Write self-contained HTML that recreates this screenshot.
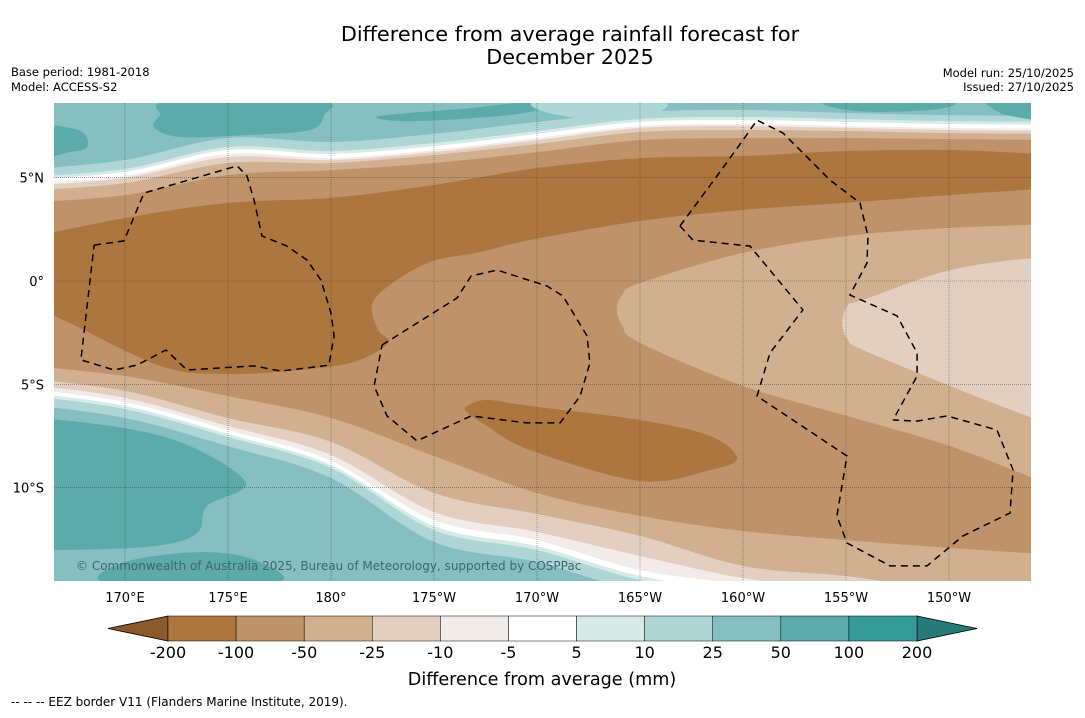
<!DOCTYPE html>
<html><head><meta charset="utf-8">
<style>
body{margin:0;background:#fff;width:1085px;height:713px;overflow:hidden;font-family:"Liberation Sans",sans-serif;}
svg text{font-family:"DejaVu Sans","Liberation Sans",sans-serif;}
</style></head>
<body>
<svg id="chart" width="1085" height="713" viewBox="0 0 1085 713" xmlns="http://www.w3.org/2000/svg">
<text x="570" y="41" font-size="20.8" text-anchor="middle" fill="#000">Difference from average rainfall forecast for</text>
<text x="570" y="64" font-size="20.8" text-anchor="middle" fill="#000">December 2025</text>
<text x="11" y="76" font-size="11.5">Base period: 1981-2018</text>
<text x="11" y="91" font-size="11.5">Model: ACCESS-S2</text>
<text x="1074" y="77" font-size="11.5" text-anchor="end">Model run: 25/10/2025</text>
<text x="1074" y="91" font-size="11.5" text-anchor="end">Issued: 27/10/2025</text>
<defs><clipPath id="mapclip"><rect x="54" y="103" width="977" height="478"/></clipPath></defs>
<g id="map" clip-path="url(#mapclip)"></g>
<g id="axes"></g>
<g id="cbar"></g>
<text x="542" y="685" font-size="17.6" text-anchor="middle">Difference from average (mm)</text>
<text x="11" y="706" font-size="12">--  --  -- EEZ border V11 (Flanders Marine Institute, 2019).</text>
</svg>
<script>
// ---- data (lon in degrees east 0-360, lat in degrees) ----
const lineLons=[165,170,175,180,185,190,195,200,205,210,216];
const north_m100=[3.78,4.16,5.13,5.37,5.71,6.24,6.82,6.92,6.92,6.87,6.82];
const north_m50=[4.36,4.74,5.71,5.71,6.10,6.63,7.21,7.31,7.26,7.16,7.12];
const north_m25=[4.60,4.99,6.00,5.86,6.24,6.82,7.41,7.50,7.41,7.31,7.26];
const north_m10=[4.70,5.08,6.15,5.95,6.34,6.92,7.50,7.60,7.50,7.41,7.36];
const north_p5=[4.89,5.28,6.34,6.15,6.53,7.12,7.70,7.79,7.70,7.60,7.55];
const north_p10=[5.03,5.42,6.49,6.29,6.68,7.26,7.84,7.94,7.84,7.74,7.70];
const north_p25=[5.37,5.86,6.92,6.73,7.12,7.70,8.18,8.28,8.13,8.03,7.99];
const south_m100=[-4.07,-4.60,-5.57,-6.63,-8.47,-10.26,-11.37,-12.10,-12.54,-12.92,-13.31];
const south_m50=[-4.70,-5.32,-6.63,-7.79,-10.26,-11.28,-12.34,-13.79,-14.28,-14.96,-15.44];
const south_m25=[-4.99,-5.66,-7.02,-8.42,-11.18,-12.15,-13.31,-14.38,-14.96,-15.44,-15.92];
const south_m10=[-5.18,-5.86,-7.21,-8.71,-11.57,-12.54,-13.99,-14.67,-15.25,-15.73,-16.21];
const south_p5=[-5.37,-6.05,-7.41,-8.91,-11.86,-12.83,-14.28,-14.96,-15.54,-16.02,-16.51];
const south_p10=[-5.52,-6.20,-7.55,-9.05,-12.05,-13.02,-14.47,-15.15,-15.73,-16.21,-16.70];
const south_p25=[-5.95,-6.63,-7.99,-9.54,-12.63,-13.60,-15.05,-15.73,-16.31,-16.80,-17.28];
const blobNorthDryLon=[165,170,175,180,185,190,195,200,205,210,214.5,217,217,214.5,210,205,200,195,189.66,187.23,184.81,182.86,181.99,182.28,182.77,181.12,178.5,175,171.7,166.55,163,163];
const blobNorthDryLat=[2.05,3.05,3.78,4.02,4.65,5.47,5.95,6.05,6.29,6.34,6.15,6.1,4.5,4.45,4.16,3.78,3.44,2.90,1.98,1.40,0.92,-0.19,-1.16,-2.37,-3.00,-3.92,-4.31,-4.50,-4.11,-1.69,-0.6,1.8];
const blobMidLon=[193.88,194.13,195,200,205.05,210.05,214.5,217,217,214.5,210.05,205.05,200,195,194.13];
const blobMidLat=[-1.40,-0.68,-0.10,1.36,2.18,2.57,2.73,2.8,-10.6,-9.7,-7.99,-6.53,-5.08,-3.00,-2.13];
const blobEastLon=[204.81,205.10,205.83,210.05,214.5,217,217,214.5,210.05,205.83,205.10];
const blobEastLat=[-2.03,-1.16,-0.92,0.53,1.15,1.2,-7.6,-6.8,-5.08,-3.34,-2.86];
const blobSouthDryLon=[186.6,187.57,189.66,195,198.4,199.71,198.4,195,189.66,187.57,186.6];
const blobSouthDryLat=[-6.05,-5.76,-6.05,-6.73,-7.50,-8.57,-9.15,-9.68,-8.18,-7.02,-6.34];
const wetSouthLon=[165,169.95,173.16,175.87,173.98,173.5,171.41,166.55,163,163];
const wetSouthLat=[-6.55,-7.12,-7.99,-9.78,-10.89,-12.2,-12.83,-13.02,-12.9,-6.5];
const wetSouth2Lon=[169.17,170,173.64,176.31,177.28];
const wetSouth2Lat=[-14.6,-13.6,-13.12,-13.5,-14.6];
const wetN1Lon=[165.3,167.33,168.11,168.11,167.33,165.3];
const wetN1Lat=[7.5,7.41,7.02,6.44,6.24,5.95];
const wetN2Lon=[171.41,171.7,172.18,179.47,179.66,178.98,176.07,172.67];
const wetN2Lat=[7.45,8.03,8.7,8.7,8.03,7.31,7.07,6.97];
const wetN3Lon=[182.38,186.75,189.66,190.39,189.66,186.26,183.35];
const wetN3Lat=[7.99,8.37,8.7,8.7,8.18,7.84,7.74];
const wetN4Lon=[204.22,209.9,209.56,206.65,204.71];
const wetN4Lat=[8.7,8.7,8.33,8.18,8.33];
const wetN5Lon=[211.99,215,215,212.96,212.09];
const wetN5Lat=[8.7,8.7,7.79,7.99,8.37];
const paleNLon=[190.15,195.97,195.49,193.06,190.4];
const paleNLat=[8.7,8.7,8.03,7.79,8.18];
const eezALon=[168.5,169.95,170.92,175.44,175.92,176.26,176.65,177.86,178.83,179.51,180,180.15,179.9,177.57,176.26,173.01,171.99,170.58,169.47,167.86,168.5];
const eezALat=[1.74,1.94,4.26,5.57,5.08,3.92,2.18,1.69,1.02,0.05,-1.55,-2.66,-4.07,-4.36,-4.11,-4.31,-3.34,-4.07,-4.31,-3.82,1.74];
const eezBLon=[182.48,186.12,186.8,188.06,190.49,191.26,192.43,192.57,192.09,191.12,189.51,186.8,184.17,182.72,182.09,182.48];
const eezBLat=[-3.10,-0.82,0.24,0.53,-0.24,-0.73,-2.66,-3.97,-5.57,-6.87,-6.87,-6.53,-7.74,-6.53,-5.08,-3.10];
const eezC1Lon=[196.94,198.74,200,200.68,201.94,203.4,204.22,205.68,206.07,206.02,205.19,207.48,208.45,208.45,207.28];
const eezC1Lat=[2.66,5.08,6.82,7.79,7.16,5.71,4.89,3.78,2.18,0.87,-0.68,-1.69,-3.48,-4.60,-6.73];
const eezC2Lon=[196.94,197.57,200.34,202.91,201.31,200.68,205.05,204.56,205.05,207.14,208.93,210.68,212.96,213.11,212.33,209.9,208.45,207.28];
const eezC2Lat=[2.66,1.98,1.69,-1.40,-3.48,-5.57,-8.47,-11.37,-12.68,-13.79,-13.79,-12.34,-11.23,-9.15,-7.21,-6.53,-6.78,-6.73];
const gridLons=[170,175,180,185,190,195,200,205,210];
const lonLabels=["170°E","175°E","180°","175°W","170°W","165°W","160°W","155°W","150°W"];
const gridLats=[5,0,-5,-10];
const latLabels=["5°N","0°","5°S","10°S"];
const cbarLabels=["-200","-100","-50","-25","-10","-5","5","10","25","50","100","200"];
const cbarColors=["#ad763e","#bf9369","#d1b08f","#e3cfbf","#f2ece8","#ffffff","#d6ebe8","#aed6d4","#85bfbf","#5cabab","#349b98"];
// ---- scales ----
const MX0=54,MX1=1031,MY0=103,MY1=581;
function xs(lon){return 331+(lon-180)*20.6;}
function ys(lat){return 281-lat*20.66;}
const NS="http://www.w3.org/2000/svg";
const map=document.getElementById('map');
function crPath(pts,closed){
  const n=pts.length;let d="M"+pts[0][0].toFixed(1)+","+pts[0][1].toFixed(1);
  const last=closed?n:n-1;
  for(let i=0;i<last;i++){
    const p0=pts[(i-1+n)%n],p1=pts[i],p2=pts[(i+1)%n],p3=pts[(i+2)%n];
    const a=closed||i>0?p0:p1, b=closed||i+2<n?p3:p2;
    const c1=[p1[0]+(p2[0]-a[0])/6,p1[1]+(p2[1]-a[1])/6];
    const c2=[p2[0]-(b[0]-p1[0])/6,p2[1]-(b[1]-p1[1])/6];
    d+="C"+c1[0].toFixed(1)+","+c1[1].toFixed(1)+" "+c2[0].toFixed(1)+","+c2[1].toFixed(1)+" "+p2[0].toFixed(1)+","+p2[1].toFixed(1);
  }
  return d;
}
function pts(lons,lats){return lons.map((l,i)=>[xs(l),ys(lats[i])]);}
function addPath(d,fill,name){
  const p=document.createElementNS(NS,'path');
  p.setAttribute('d',d);p.setAttribute('fill',fill);
  
  
  map.appendChild(p);return p;
}
const base=document.createElementNS(NS,'rect');
base.setAttribute('x',MX0);base.setAttribute('y',MY0);base.setAttribute('width',MX1-MX0);base.setAttribute('height',MY1-MY0);base.setAttribute('fill',cbarColors[1]);


map.appendChild(base);
const northLines=[north_m100,north_m50,north_m25,north_m10,north_p5,north_p10,north_p25];
const southLines=[south_m100,south_m50,south_m25,south_m10,south_p5,south_p10,south_p25];
const layerColors=[cbarColors[2],cbarColors[3],cbarColors[4],cbarColors[5],cbarColors[6],cbarColors[7],cbarColors[8]];
northLines.forEach((ln,k)=>{
  const p=pts(lineLons,ln);
  const d=crPath(p,false)+"L"+(MX1+60)+","+(MY0-5)+"L"+(MX0-60)+","+(MY0-5)+"Z";
  addPath(d,layerColors[k],'north-contour-band');
});
southLines.forEach((ln,k)=>{
  const p=pts(lineLons,ln);
  const d=crPath(p,false)+"L"+(MX1+60)+","+(MY1+60)+"L"+(MX0-60)+","+(MY1+60)+"Z";
  addPath(d,layerColors[k],'south-contour-band');
});
addPath(crPath(pts(blobNorthDryLon,blobNorthDryLat),true),cbarColors[0],'dry-core-north');
addPath(crPath(pts(blobMidLon,blobMidLat),true),cbarColors[2],'moderate-dry-region');
addPath(crPath(pts(blobEastLon,blobEastLat),true),cbarColors[3],'weak-dry-region');
addPath(crPath(pts(blobSouthDryLon,blobSouthDryLat),true),cbarColors[0],'dry-core-south');
addPath(crPath(pts(wetSouthLon,wetSouthLat),true),cbarColors[9],'wet-region-south');
addPath(crPath(pts(wetSouth2Lon,wetSouth2Lat),true),cbarColors[9],'wet-patch-south');
[[wetN1Lon,wetN1Lat],[wetN2Lon,wetN2Lat],[wetN3Lon,wetN3Lat],[wetN4Lon,wetN4Lat],[wetN5Lon,wetN5Lat]].forEach(a=>{
  addPath(crPath(pts(a[0],a[1]),true),cbarColors[9],'wet-patch-north');
});
addPath(crPath(pts(paleNLon,paleNLat),true),cbarColors[7],'light-wet-patch-north');
gridLons.forEach(l=>{
  const g=document.createElementNS(NS,'line');
  g.setAttribute('x1',xs(l));g.setAttribute('x2',xs(l));g.setAttribute('y1',MY0);g.setAttribute('y2',MY1);
  g.setAttribute('stroke','#333');g.setAttribute('stroke-width','0.6');g.setAttribute('stroke-dasharray','1,1');g.setAttribute('opacity','0.7');
  
  
  map.appendChild(g);
});
gridLats.forEach(l=>{
  const g=document.createElementNS(NS,'line');
  g.setAttribute('y1',ys(l));g.setAttribute('y2',ys(l));g.setAttribute('x1',MX0);g.setAttribute('x2',MX1);
  g.setAttribute('stroke','#333');g.setAttribute('stroke-width','0.6');g.setAttribute('stroke-dasharray','1,1');g.setAttribute('opacity','0.7');
  
  
  map.appendChild(g);
});
[[eezALon,eezALat],[eezBLon,eezBLat],[eezC1Lon,eezC1Lat],[eezC2Lon,eezC2Lat]].forEach(a=>{
  const p=document.createElementNS(NS,'polyline');
  p.setAttribute('points',pts(a[0],a[1]).map(q=>q[0].toFixed(1)+","+q[1].toFixed(1)).join(" "));
  p.setAttribute('fill','none');p.setAttribute('stroke','#000');p.setAttribute('stroke-width','1.5');p.setAttribute('stroke-dasharray','7,5');
  
  
  map.appendChild(p);
});
const cp=document.createElementNS(NS,'text');
cp.setAttribute('x',76);cp.setAttribute('y',570);cp.setAttribute('font-size','12');cp.setAttribute('fill','#3d6868');
cp.textContent="© Commonwealth of Australia 2025, Bureau of Meteorology, supported by COSPPac";


map.appendChild(cp);
const axes=document.getElementById('axes');
lonLabels.forEach((t,i)=>{
  const e=document.createElementNS(NS,'text');
  e.setAttribute('x',xs(gridLons[i]));e.setAttribute('y',602);e.setAttribute('font-size','13');e.setAttribute('text-anchor','middle');
  e.textContent=t;
  
  
  axes.appendChild(e);
});
latLabels.forEach((t,i)=>{
  const e=document.createElementNS(NS,'text');
  e.setAttribute('x',44);e.setAttribute('y',ys(gridLats[i])+5);e.setAttribute('font-size','13');e.setAttribute('text-anchor','end');
  e.textContent=t;
  
  
  axes.appendChild(e);
});
const cb=document.getElementById('cbar');
const CB0=168,CBW=(917-168)/11,CBY=616,CBH=25;
const lt=document.createElementNS(NS,'polygon');
lt.setAttribute('points',(CB0)+","+CBY+" "+(CB0-60)+","+(CBY+CBH/2)+" "+CB0+","+(CBY+CBH));
lt.setAttribute('fill','#8b5a2b');lt.setAttribute('stroke','#000');lt.setAttribute('stroke-width','0.8');


cb.appendChild(lt);
const rt=document.createElementNS(NS,'polygon');
rt.setAttribute('points',917+","+CBY+" "+977+","+(CBY+CBH/2)+" "+917+","+(CBY+CBH));
rt.setAttribute('fill','#267a78');rt.setAttribute('stroke','#000');rt.setAttribute('stroke-width','0.8');


cb.appendChild(rt);
cbarColors.forEach((c,i)=>{
  const r=document.createElementNS(NS,'rect');
  r.setAttribute('x',CB0+i*CBW);r.setAttribute('y',CBY);r.setAttribute('width',CBW);r.setAttribute('height',CBH);
  r.setAttribute('fill',c);r.setAttribute('stroke','#000');r.setAttribute('stroke-width','0.5');
  
  
  cb.appendChild(r);
});
cbarLabels.forEach((t,i)=>{
  const e=document.createElementNS(NS,'text');
  e.setAttribute('x',CB0+i*CBW);e.setAttribute('y',658);e.setAttribute('font-size','16');e.setAttribute('text-anchor','middle');
  e.textContent=t;
  
  
  cb.appendChild(e);
});
</script>
</body></html>
